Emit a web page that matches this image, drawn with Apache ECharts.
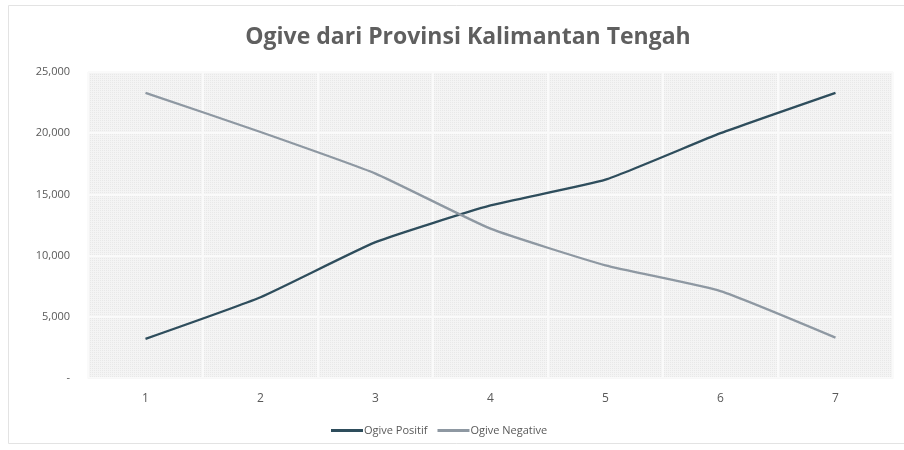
<!DOCTYPE html>
<html>
<head>
<meta charset="utf-8">
<script src="https://cdn.jsdelivr.net/npm/echarts@6/dist/echarts.min.js"></script>
<style>
  html, body { margin: 0; padding: 0; background: #ffffff; }
  #chart { width: 904px; height: 450px; }
</style>
</head>
<body>
<div id="chart"></div>
<script>
// Kelas (interval) 1..7 and the cumulative frequencies
const categories = ['1', '2', '3', '4', '5', '6', '7'];
const ogivePositif = [3200, 6600, 11100, 14100, 16200, 20000, 23300];
const ogiveNegative = [23300, 20100, 16700, 12200, 9200, 7100, 3300];
const yTicks = [0, 5000, 10000, 15000, 20000, 25000];

// Fine checker pattern for the plot area fill
function makePattern() {
  const c = document.createElement('canvas');
  c.width = 4; c.height = 4;
  const g = c.getContext('2d');
  g.fillStyle = '#f4f4f4';
  g.fillRect(0, 0, 4, 4);
  g.fillStyle = '#e8e8e8';
  g.fillRect(0, 0, 1, 1);
  g.fillRect(2, 2, 1, 1);
  g.fillRect(2, 0, 1, 1);
  g.fillRect(0, 2, 1, 1);
  return { image: c, repeat: 'repeat' };
}

const fontFam = '"Open Sans", "Noto Sans", sans-serif';
const chart = echarts.init(document.getElementById('chart'), null, { renderer: 'canvas' });

chart.setOption({
  animation: false,
  backgroundColor: '#ffffff',
  title: {
    text: 'Ogive dari Provinsi Kalimantan Tengah',
    left: 463,
    textAlign: 'center',
    top: 21,
    textStyle: { fontFamily: fontFam, fontSize: 23, fontWeight: 'bold', color: '#5f5f5f' }
  },
  graphic: [{
    type: 'rect',
    shape: { x: 8.5, y: 5.5, width: 900, height: 438 },
    style: { fill: 'none', stroke: '#e3e3e3', lineWidth: 1 },
    silent: true
  }],
  legend: {
    bottom: 9,
    left: 326,
    itemWidth: 32,
    itemHeight: 3,
    itemGap: 10,
    icon: 'rect',
    textStyle: { fontFamily: fontFam, fontSize: 11, color: '#595959', padding: [0, 0, 0, -4] },
    data: ['Ogive Positif', 'Ogive Negative']
  },
  grid: {
    left: 88, right: 11, top: 72, bottom: 72,
    show: true,
    borderWidth: 0,
    backgroundColor: makePattern()
  },
  xAxis: {
    type: 'category',
    data: categories,
    boundaryGap: true,
    axisLine: { show: true, lineStyle: { color: '#f7f7f7', width: 1 } },
    axisTick: { show: false },
    splitLine: { show: true, lineStyle: { color: '#fafafa', width: 2 } },
    axisLabel: { fontFamily: fontFam, fontSize: 12, color: '#595959', margin: 15 }
  },
  yAxis: {
    type: 'value',
    min: 0, max: 25000, interval: 5000,
    axisLine: { show: false },
    axisTick: { show: false },
    splitLine: { show: true, lineStyle: { color: '#fafafa', width: 2 } },
    axisLabel: {
      fontFamily: fontFam, fontSize: 11, color: '#595959', margin: 18,
      formatter: function (v) {
        if (yTicks.indexOf(v) < 0) return '';
        return v === 0 ? '-' : v.toLocaleString('en-US');
      }
    }
  },
  series: [
    {
      name: 'Ogive Positif',
      type: 'line',
      data: ogivePositif,
      smooth: 0.15,
      symbol: 'none',
      color: '#2e4d5c',
      lineStyle: { width: 2.3, color: '#2e4d5c' }
    },
    {
      name: 'Ogive Negative',
      type: 'line',
      data: ogiveNegative,
      smooth: 0.15,
      symbol: 'none',
      color: '#8e98a2',
      lineStyle: { width: 2.3, color: '#8e98a2' }
    }
  ]
});
</script>
</body>
</html>
